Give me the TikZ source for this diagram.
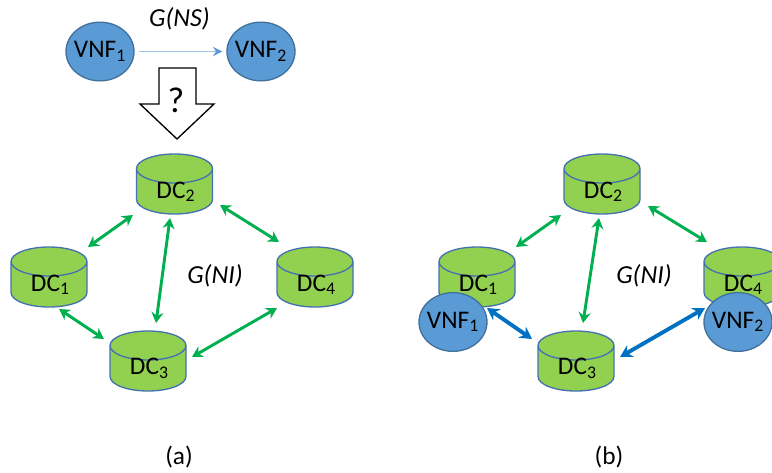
\documentclass[tikz,border=0pt]{standalone}
\usepackage{fontspec}
\setmainfont{Carlito}
\usetikzlibrary{shapes.geometric,arrows.meta}
\definecolor{vnfblue}{RGB}{91,155,213}
\definecolor{vnfline}{RGB}{65,113,156}
\definecolor{dcgreen}{RGB}{146,208,80}
\definecolor{dcline}{RGB}{68,114,176}
\definecolor{nigreen}{RGB}{0,176,80}
\definecolor{mapblue}{RGB}{0,112,192}
\definecolor{nsblue}{RGB}{157,195,230}
\newcommand{\dclabel}[1]{\raisebox{-5pt}{\hspace{2pt}DC\textsubscript{#1}}}
\tikzset{every picture/.style={line width=0.75pt},
vnf/.style={ellipse,draw=vnfline,fill=vnfblue,line width=1pt,minimum width=51pt,minimum height=44pt,inner xsep=-3pt,inner ysep=0pt,font=\fontsize{19}{21}\selectfont},
dc/.style={cylinder,shape border rotate=90,anchor=shape center,aspect=0.7,draw=dcline,fill=dcgreen,line width=1pt,minimum width=57pt,minimum height=45pt,inner xsep=0pt,inner ysep=-2.5pt,font=\fontsize{19}{21}\selectfont},
nilink/.style={draw=nigreen,line width=2.2pt,{Stealth[length=8pt,width=9pt]}-{Stealth[length=8pt,width=9pt]}},
maplink/.style={draw=mapblue,line width=2.9pt,{Stealth[length=9pt,width=10pt]}-{Stealth[length=9pt,width=10pt]}},
nslink/.style={draw=nsblue,line width=1.3pt,-{Stealth[length=7pt,width=7pt,color=vnfblue]}},
caption/.style={font=\fontsize{19}{21}\selectfont,inner sep=0pt},
graphname/.style={font=\fontsize{19.5}{21}\selectfont\itshape,inner sep=0pt}}
\begin{document}
\begin{tikzpicture}[x=0.75pt,y=0.75pt,yscale=-1,xscale=1]
\useasboundingbox (0,0) rectangle (772,472);
\clip (0,0) rectangle (772,472);

\node (vnfa) [vnf] at (100,51.5) {VNF\textsubscript{1}};
\node (vnfb) [vnf] at (261,51.5) {VNF\textsubscript{2}};
\node (gns) [graphname] at (179.5,19) {G(NS)};
\draw [nslink] ([xshift=3pt]vnfa.east) -- ([xshift=-3pt]vnfb.west);

\draw [line width=1pt,fill=white] (159,68) -- (196,68) -- (196,104) -- (214,104) -- (177,139) -- (140,104) -- (159,104) -- cycle ;
\node (query) [font=\fontsize{27}{29}\selectfont,inner sep=0pt] at (176,100) {?};

\node (dcb) [dc] at (174.5,184) {\dclabel{2}};
\node (dca) [dc] at (49,277) {\dclabel{1}};
\node (dcd) [dc] at (315,277) {\dclabel{4}};
\node (dcc) [dc] at (148,361) {\dclabel{3}};
\node (gni) [graphname] at (215,276) {G(NI)};

\draw [nilink] ([shift={(39,-30)}]dca.shape center) -- ([shift={(-41.5,31)}]dcb.shape center);
\draw [nilink] ([shift={(-4.5,34)}]dcb.shape center) -- ([shift={(8,-38)}]dcc.shape center);
\draw [nilink] ([shift={(45.5,21)}]dcb.shape center) -- ([shift={(-36,-35)}]dcd.shape center);
\draw [nilink] ([shift={(10,32)}]dca.shape center) -- ([shift={(-44,-22)}]dcc.shape center);
\draw [nilink] ([shift={(44,-4)}]dcc.shape center) -- ([shift={(-38,31)}]dcd.shape center);

\node (dcbb) [dc] at (602,184) {\dclabel{2}};
\node (dcab) [dc] at (477,277) {\dclabel{1}};
\node (dcdb) [dc] at (742,277) {\dclabel{4}};
\node (dccb) [dc] at (576,361) {\dclabel{3}};
\node (gnib) [graphname] at (644,276) {G(NI)};
\node (vnfab) [vnf] at (453,322) {VNF\textsubscript{1}};
\node (vnfbb) [vnf] at (738,322) {VNF\textsubscript{2}};

\draw [nilink] ([shift={(39,-30)}]dcab.shape center) -- ([shift={(-41,31)}]dcbb.shape center);
\draw [nilink] ([shift={(-3,34)}]dcbb.shape center) -- ([shift={(7,-38)}]dccb.shape center);
\draw [nilink] ([shift={(46,22)}]dcbb.shape center) -- ([shift={(-35,-35)}]dcdb.shape center);
\draw [maplink] ([shift={(34,-14)}]vnfab.center) -- ([shift={(-44,-22)}]dccb.shape center);
\draw [maplink] ([shift={(44,-4)}]dccb.shape center) -- ([shift={(-33,-14)}]vnfbb.center);

\node (cap_a) [caption] at (179,457) {(a)};
\node (cap_b) [caption] at (609,457) {(b)};
\end{tikzpicture}
\end{document}
